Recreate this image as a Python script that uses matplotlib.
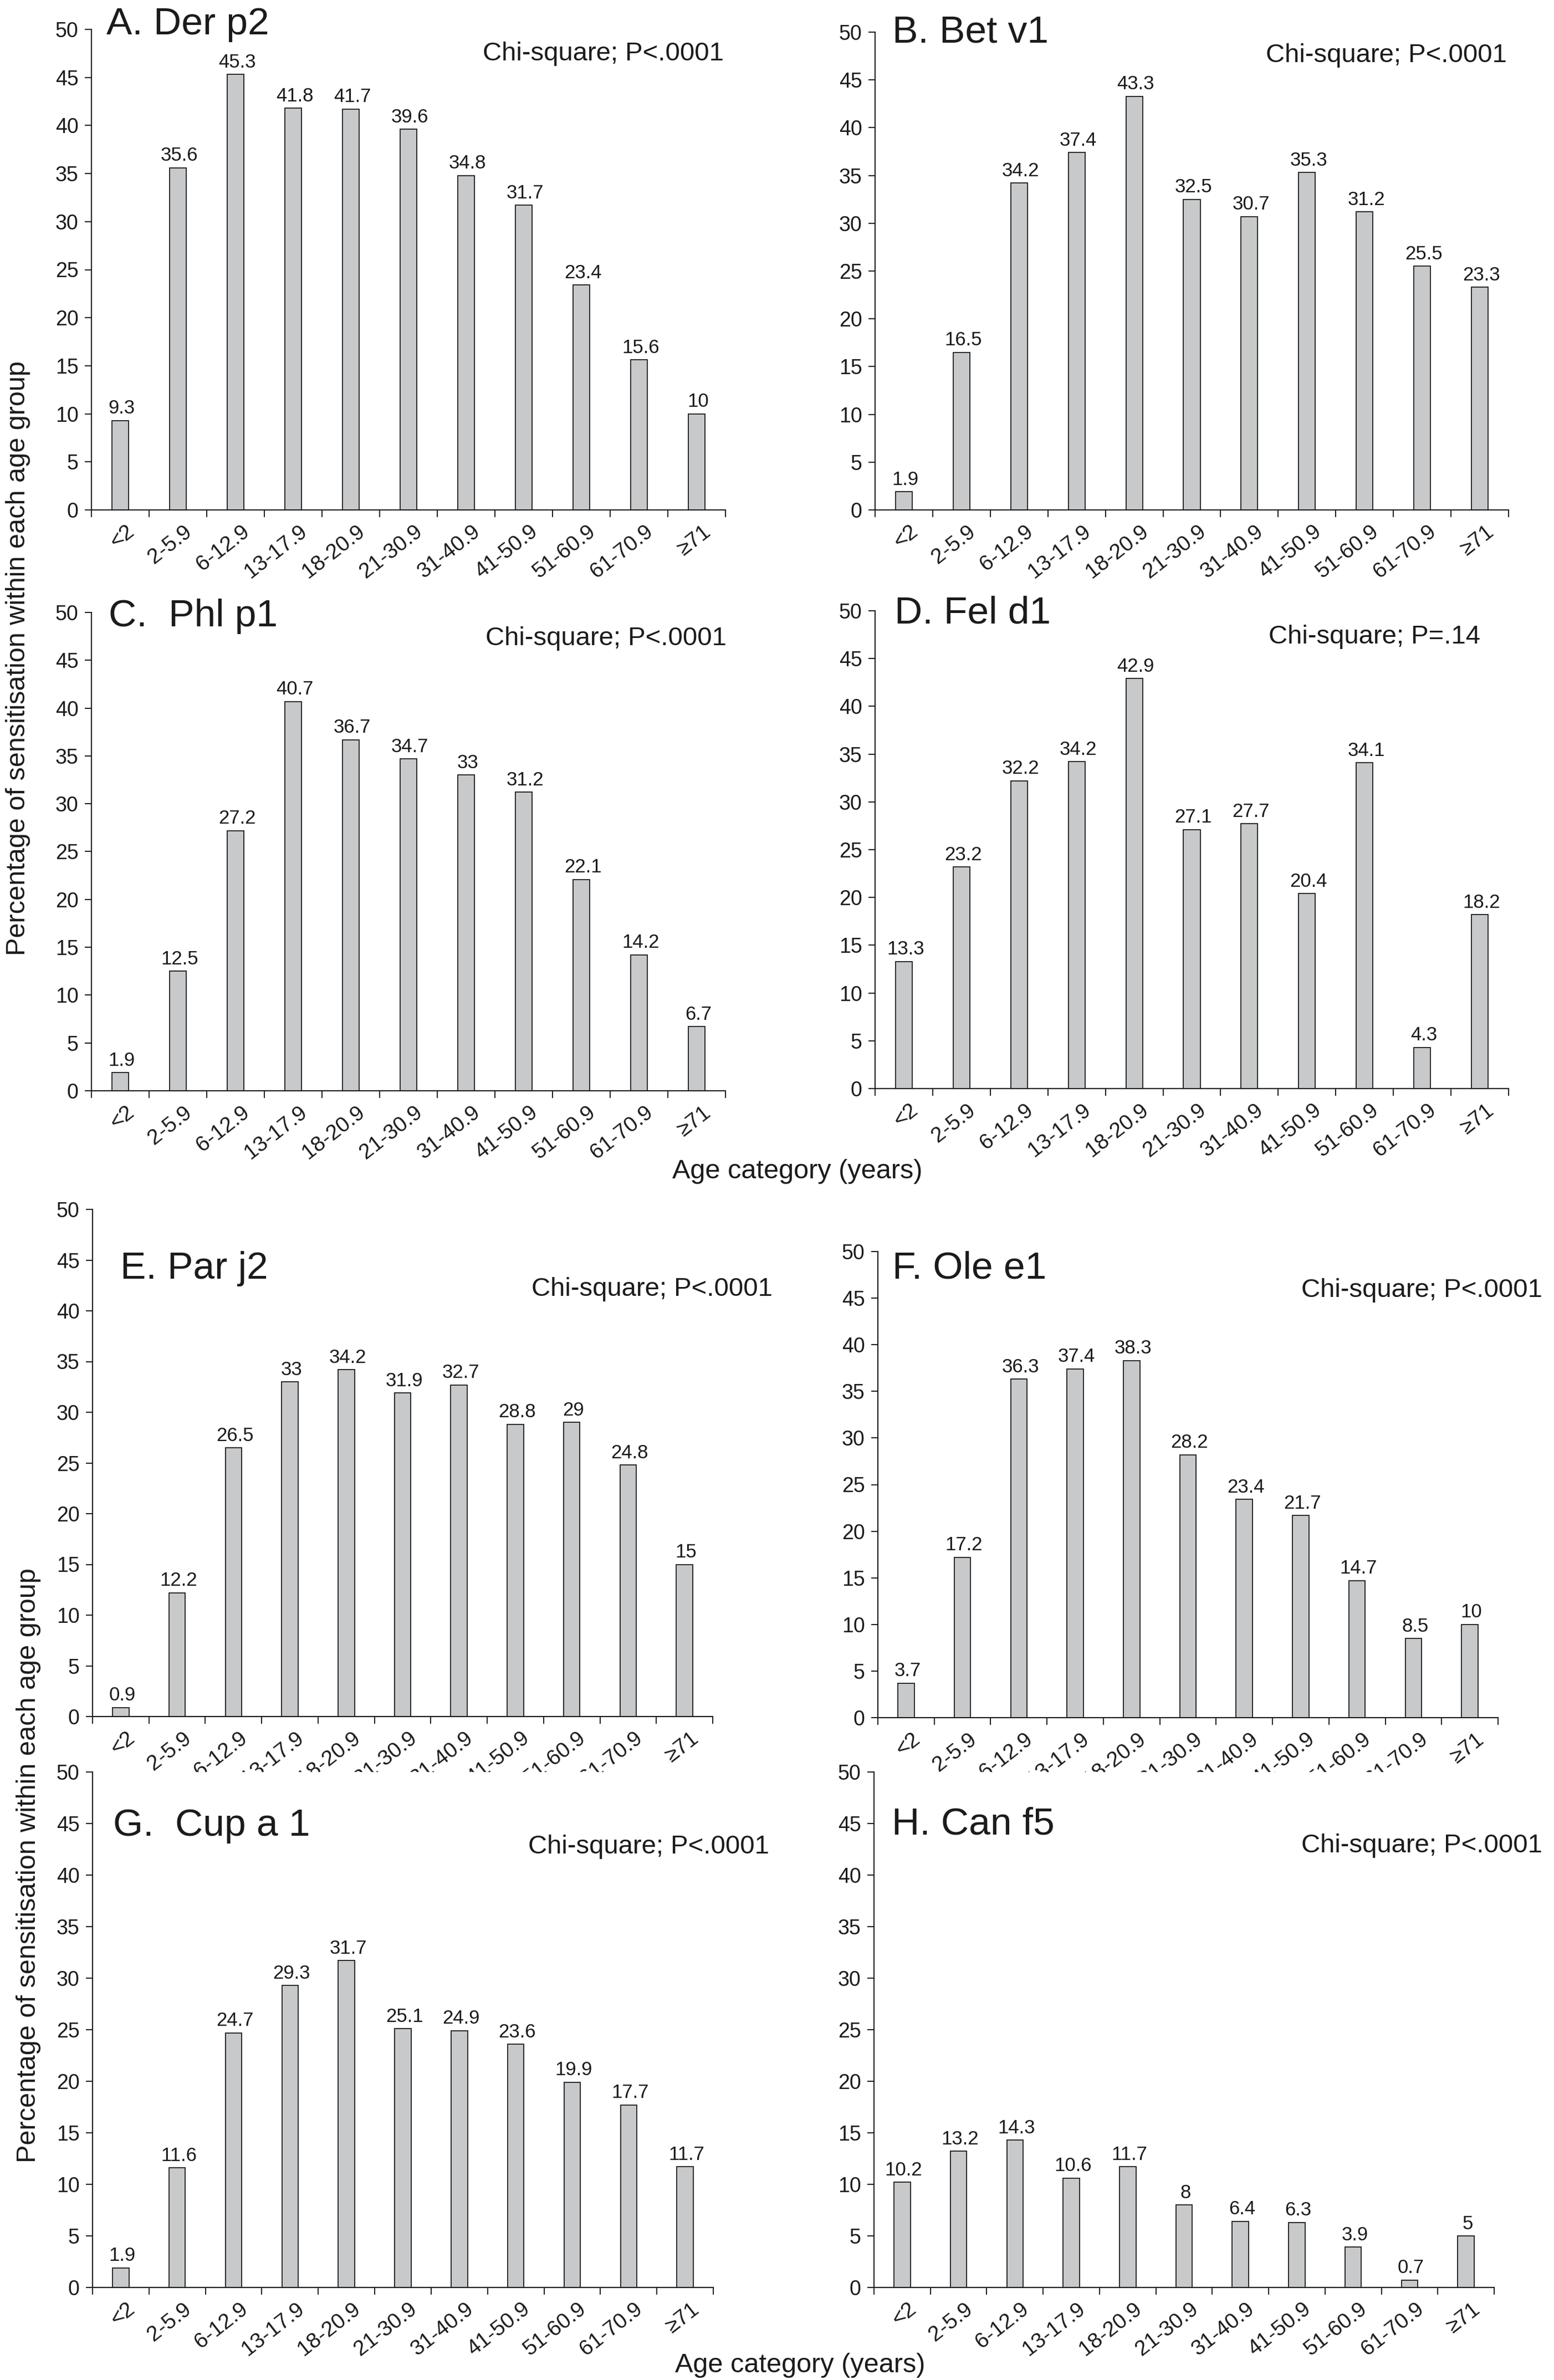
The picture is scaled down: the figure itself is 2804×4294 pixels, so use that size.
import matplotlib
matplotlib.use("Agg")
import matplotlib.pyplot as plt
import matplotlib.transforms as mtransforms
import numpy as np

plt.rcParams['font.family'] = ['Liberation Sans', 'DejaVu Sans']

age_labels = ["<2", "2-5.9", "6-12.9", "13-17.9", "18-20.9", "21-30.9",
              "31-40.9", "41-50.9", "51-60.9", "61-70.9", "\u226571"]

der_p2 = [9.3, 35.6, 45.3, 41.8, 41.7, 39.6, 34.8, 31.7, 23.4, 15.6, 10]
bet_v1 = [1.9, 16.5, 34.2, 37.4, 43.3, 32.5, 30.7, 35.3, 31.2, 25.5, 23.3]
phl_p1 = [1.9, 12.5, 27.2, 40.7, 36.7, 34.7, 33, 31.2, 22.1, 14.2, 6.7]
fel_d1 = [13.3, 23.2, 32.2, 34.2, 42.9, 27.1, 27.7, 20.4, 34.1, 4.3, 18.2]
par_j2 = [0.9, 12.2, 26.5, 33, 34.2, 31.9, 32.7, 28.8, 29, 24.8, 15]
ole_e1 = [3.7, 17.2, 36.3, 37.4, 38.3, 28.2, 23.4, 21.7, 14.7, 8.5, 10]
cup_a1 = [1.9, 11.6, 24.7, 29.3, 31.7, 25.1, 24.9, 23.6, 19.9, 17.7, 11.7]
can_f5 = [10.2, 13.2, 14.3, 10.6, 11.7, 8, 6.4, 6.3, 3.9, 0.7, 5]

titles = ["A. Der p2", "B. Bet v1", "C.  Phl p1", "D. Fel d1",
          "E. Par j2", "F. Ole e1", "G.  Cup a 1", "H. Can f5"]
stats = ["Chi-square; P<.0001", "Chi-square; P<.0001", "Chi-square; P<.0001",
         "Chi-square; P=.14", "Chi-square; P<.0001", "Chi-square; P<.0001",
         "Chi-square; P<.0001", "Chi-square; P<.0001"]
series = [der_p2, bet_v1, phl_p1, fel_d1, par_j2, ole_e1, cup_a1, can_f5]

W, H = 2804, 4294
# axes boxes in pixels: left, right, top(y=50), bottom(y=0)
boxes = [(165, 1309, 53, 920), (1579, 2722, 58, 920),
         (165, 1309, 1105, 1968), (1579, 2722, 1102, 1964),
         (167, 1286, 2182, 3097), (1584, 2703, 2258, 3099),
         (167, 1287, 3197, 4127), (1577, 2696, 3197, 4127)]
# title position (axes fraction x, y baseline)
title_pos = [(0.024, 0.99), (0.027, 0.978), (0.027, 0.971), (0.031, 0.974),
             (0.045, 0.863), (0.023, 0.942), (0.033, 0.876), (0.029, 0.879)]
stat_pos = [(0.997, 0.935), (0.997, 0.937), (1.002, 0.932), (0.955, 0.932),
            (1.096, 0.830), (1.071, 0.903), (1.09, 0.842), (1.078, 0.844)]

txt = '#1c1a1b'
fig = plt.figure(figsize=(W / 100, H / 100), dpi=100)

x = np.arange(len(age_labels))
shift = mtransforms.ScaledTranslation(10 / 100, 0, fig.dpi_scale_trans)
for i, vals in enumerate(series):
    l, r, t, b = boxes[i]
    ax = fig.add_axes([l / W, 1 - b / H, (r - l) / W, (b - t) / H])
    ax.bar(x, vals, width=0.29, color='#c8c9cb', edgecolor='#1a1a1a', linewidth=1.3)
    for xi, v in zip(x, vals):
        ax.annotate(f"{v:g}", (xi, v), xytext=(2, 9), textcoords='offset points',
                    ha='center', va='baseline', fontsize=25, color=txt)
    ax.set_xlim(-0.5, 10.5)
    ax.set_ylim(0, 50)
    ax.set_yticks(np.arange(0, 51, 5))
    ax.tick_params(axis='y', labelsize=27, length=9, width=1.4, direction='out',
                   pad=8, colors=txt)
    ax.set_xticks(x)
    ax.set_xticklabels(age_labels, rotation=38, ha='right', rotation_mode='anchor',
                       fontsize=28, color=txt)
    ax.tick_params(axis='x', which='major', length=0, pad=15)
    for lab in ax.get_xticklabels():
        lab.set_transform(lab.get_transform() + shift)
    ax.set_xticks(np.arange(-0.5, 11, 1), minor=True)
    ax.tick_params(axis='x', which='minor', length=9, width=1.4, direction='out',
                   colors=txt)
    for s in ['top', 'right']:
        ax.spines[s].set_visible(False)
    for s in ['left', 'bottom']:
        ax.spines[s].set_linewidth(1.5)
        ax.spines[s].set_color(txt)
    tx, ty = title_pos[i]
    ax.text(tx, ty, titles[i], transform=ax.transAxes, fontsize=50,
            ha='left', va='baseline', color=txt)
    sx, sy = stat_pos[i]
    ax.text(sx, sy, stats[i], transform=ax.transAxes, fontsize=34,
            ha='right', va='baseline', color=txt, clip_on=False)

ylab = "Percentage of sensitisation within each age group"
fig.text(33 / W, 1 - 1188 / H, ylab, rotation=90, ha='center', va='center',
         fontsize=35, color=txt)
fig.text(52 / W, 1 - 3366 / H, ylab, rotation=90, ha='center', va='center',
         fontsize=35, color=txt)
fig.text(1439 / W, 1 - 2113 / H, "Age category (years)", ha='center', va='center',
         fontsize=35, color=txt)
fig.text(1444 / W, 1 - 4268 / H, "Age category (years)", ha='center', va='center',
         fontsize=35, color=txt)

fig.savefig("out.png", dpi=100, facecolor='white')
